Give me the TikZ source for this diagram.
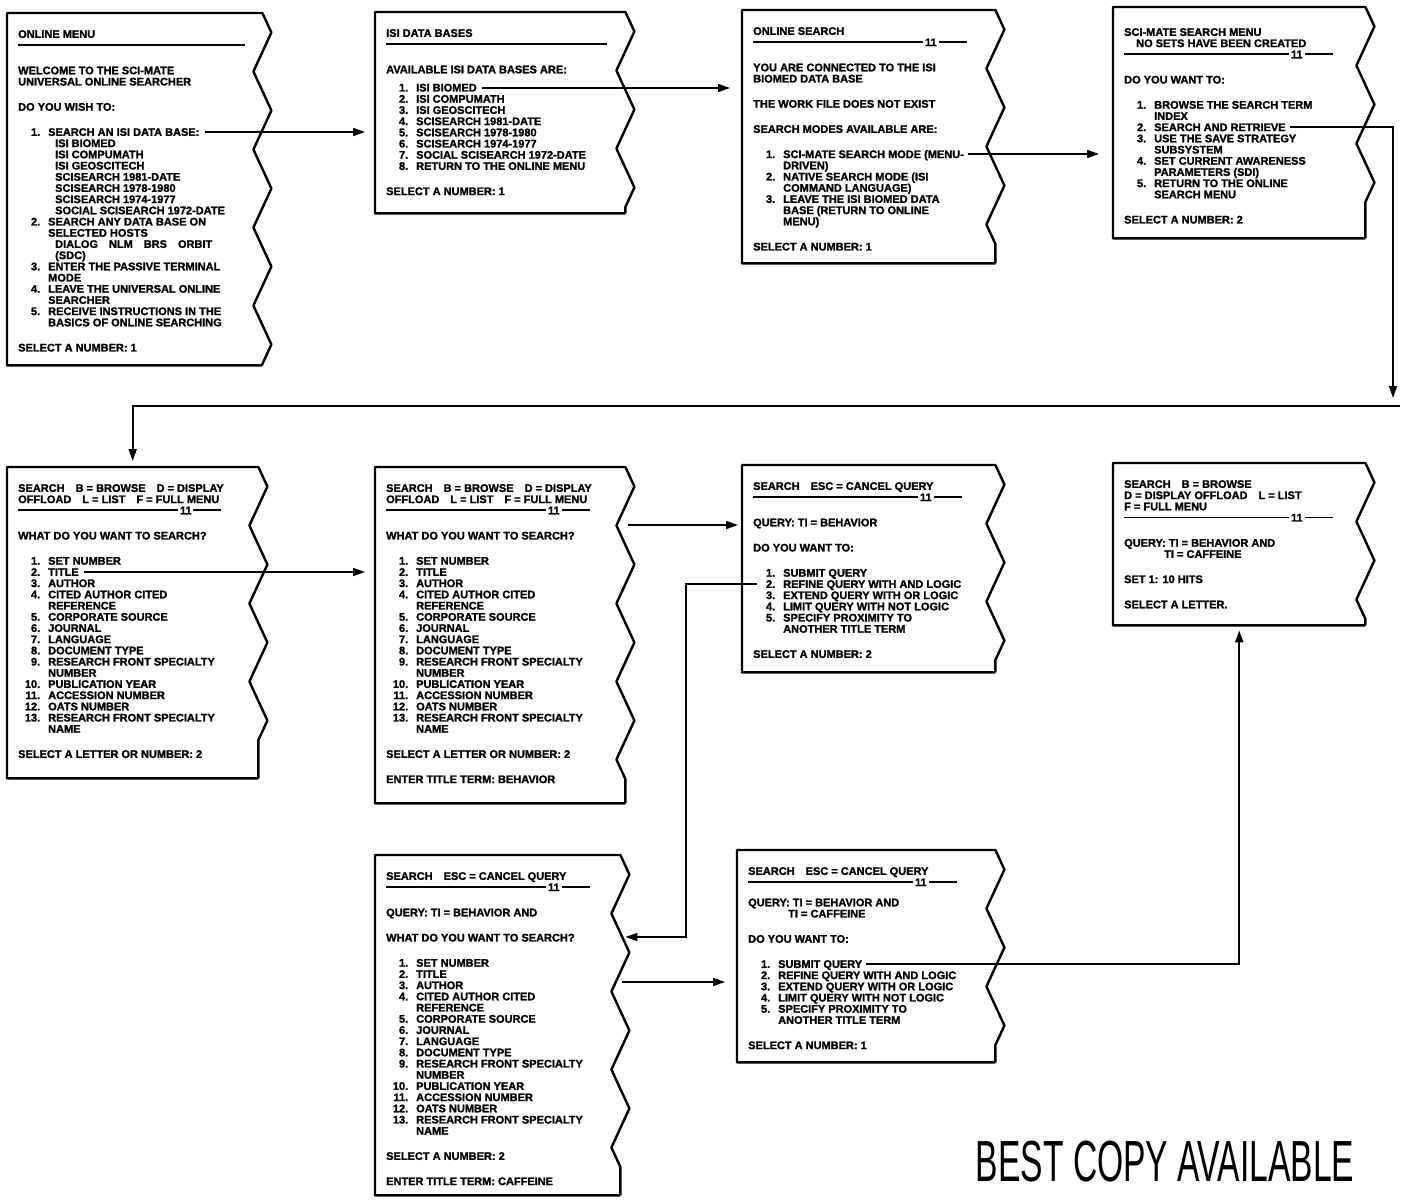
\documentclass[tikz,border=0pt]{standalone}
\usepackage{fontspec}
\usepackage{graphicx}
\newfontfamily\screenfont[BoldFeatures={FakeBold=1.6}]{Liberation Sans}
\usetikzlibrary{arrows.meta,decorations.pathmorphing}

\newcommand\itm[2]{\hspace*{6pt}\makebox[16pt][r]{#1}\hspace*{8pt}#2}
\newcommand\cont[1]{\hspace*{30pt}#1}
\newcommand\subl[1]{\hspace*{37pt}#1}
\newcommand\sepline[1]{\rule[3pt]{#1pt}{1.8pt}}
\newcommand\sepnum[1]{\rule[3pt]{#1pt}{1.8pt}\,11\,\rule[3pt]{28pt}{1.8pt}}

\begin{document}
\begin{tikzpicture}[x=1pt, y=-1pt,
    frame/.style={line width=2.4pt, line join=round,
      decoration={zigzag, segment length=78pt, amplitude=9pt}},
    link/.style={line width=1.6pt, -{Triangle[length=12pt,width=8pt]}}]

      \useasboundingbox (0,0) rectangle (1402,1199);

      \begin{scope}[every node/.style={anchor=north west, inner sep=0pt}]
        \node[minimum width=255pt, minimum height=352pt] (1)  at (7,13)    {};
        \node[minimum width=250pt, minimum height=201pt] (2)  at (375,12)  {};
        \node[minimum width=253pt, minimum height=253pt] (3)  at (742,10)  {};
        \node[minimum width=252pt, minimum height=231pt] (4)  at (1113,7)  {};
        \node[minimum width=251pt, minimum height=311pt] (5)  at (7,467)   {};
        \node[minimum width=250pt, minimum height=336pt] (6)  at (375,467) {};
        \node[minimum width=253pt, minimum height=207pt] (7)  at (742,465) {};
        \node[minimum width=245pt, minimum height=340pt] (8)  at (375,855) {};
        \node[minimum width=258pt, minimum height=212pt] (9)  at (737,850) {};
        \node[minimum width=252pt, minimum height=162pt] (10) at (1113,463) {};
      \end{scope}

      \foreach \n in {1,...,10}
        \draw[frame] (\n.south east) -- (\n.south west) -- (\n.north west)
          -- (\n.north east) decorate {-- (\n.south east)};

      \begin{scope}[every node/.style={anchor=north west, inner sep=0pt, align=left,
          font=\screenfont\bfseries\fontsize{11}{11.2}\selectfont}]
        \node (t1) at ([shift={(11,17)}]1.north west) {ONLINE MENU\\
          \sepline{227}\\[14pt]
          WELCOME TO THE SCI-MATE\\
          UNIVERSAL ONLINE SEARCHER\\[14pt]
          DO YOU WISH TO:\\[14pt]
          \itm{1.}{SEARCH AN ISI DATA BASE:}\\
          \subl{ISI BIOMED}\\
          \subl{ISI COMPUMATH}\\
          \subl{ISI GEOSCITECH}\\
          \subl{SCISEARCH 1981-DATE}\\
          \subl{SCISEARCH 1978-1980}\\
          \subl{SCISEARCH 1974-1977}\\
          \subl{SOCIAL SCISEARCH 1972-DATE}\\
          \itm{2.}{SEARCH ANY DATA BASE ON}\\
          \cont{SELECTED HOSTS}\\
          \subl{DIALOG\quad NLM\quad BRS\quad ORBIT}\\
          \subl{(SDC)}\\
          \itm{3.}{ENTER THE PASSIVE TERMINAL}\\
          \cont{MODE}\\
          \itm{4.}{LEAVE THE UNIVERSAL ONLINE}\\
          \cont{SEARCHER}\\
          \itm{5.}{RECEIVE INSTRUCTIONS IN THE}\\
          \cont{BASICS OF ONLINE SEARCHING}\\[14pt]
          SELECT A NUMBER: 1};

        \node (t2) at ([shift={(11,17)}]2.north west) {ISI DATA BASES\\
          \sepline{221}\\[14pt]
          AVAILABLE ISI DATA BASES ARE:\\[7pt]
          \itm{1.}{ISI BIOMED}\\
          \itm{2.}{ISI COMPUMATH}\\
          \itm{3.}{ISI GEOSCITECH}\\
          \itm{4.}{SCISEARCH 1981-DATE}\\
          \itm{5.}{SCISEARCH 1978-1980}\\
          \itm{6.}{SCISEARCH 1974-1977}\\
          \itm{7.}{SOCIAL SCISEARCH 1972-DATE}\\
          \itm{8.}{RETURN TO THE ONLINE MENU}\\[14pt]
          SELECT A NUMBER: 1};

        \node (t3) at ([shift={(11,17)}]3.north west) {ONLINE SEARCH\\
          \sepnum{170}\\[14pt]
          YOU ARE CONNECTED TO THE ISI\\
          BIOMED DATA BASE\\[14pt]
          THE WORK FILE DOES NOT EXIST\\[14pt]
          SEARCH MODES AVAILABLE ARE:\\[14pt]
          \itm{1.}{SCI-MATE SEARCH MODE (MENU-}\\
          \cont{DRIVEN)}\\
          \itm{2.}{NATIVE SEARCH MODE (ISI}\\
          \cont{COMMAND LANGUAGE)}\\
          \itm{3.}{LEAVE THE ISI BIOMED DATA}\\
          \cont{BASE (RETURN TO ONLINE}\\
          \cont{MENU)}\\[14pt]
          SELECT A NUMBER: 1};

        \node (t4) at ([shift={(11,21)}]4.north west) {SCI-MATE SEARCH MENU\\
          \hspace*{12pt}NO SETS HAVE BEEN CREATED\\
          \sepnum{165}\\[14pt]
          DO YOU WANT TO:\\[14pt]
          \itm{1.}{BROWSE THE SEARCH TERM}\\
          \cont{INDEX}\\
          \itm{2.}{SEARCH AND RETRIEVE}\\
          \itm{3.}{USE THE SAVE STRATEGY}\\
          \cont{SUBSYSTEM}\\
          \itm{4.}{SET CURRENT AWARENESS}\\
          \cont{PARAMETERS (SDI)}\\
          \itm{5.}{RETURN TO THE ONLINE}\\
          \cont{SEARCH MENU}\\[14pt]
          SELECT A NUMBER: 2};

        \node (t5) at ([shift={(11,17)}]5.north west) {SEARCH\quad B = BROWSE\quad D = DISPLAY\\
          OFFLOAD\quad L = LIST\quad F = FULL MENU\\
          \sepnum{160}\\[14pt]
          WHAT DO YOU WANT TO SEARCH?\\[14pt]
          \itm{1.}{SET NUMBER}\\
          \itm{2.}{TITLE}\\
          \itm{3.}{AUTHOR}\\
          \itm{4.}{CITED AUTHOR CITED}\\
          \cont{REFERENCE}\\
          \itm{5.}{CORPORATE SOURCE}\\
          \itm{6.}{JOURNAL}\\
          \itm{7.}{LANGUAGE}\\
          \itm{8.}{DOCUMENT TYPE}\\
          \itm{9.}{RESEARCH FRONT SPECIALTY}\\
          \cont{NUMBER}\\
          \itm{10.}{PUBLICATION YEAR}\\
          \itm{11.}{ACCESSION NUMBER}\\
          \itm{12.}{OATS NUMBER}\\
          \itm{13.}{RESEARCH FRONT SPECIALTY}\\
          \cont{NAME}\\[14pt]
          SELECT A LETTER OR NUMBER: 2};

        \node (t6) at ([shift={(11,17)}]6.north west) {SEARCH\quad B = BROWSE\quad D = DISPLAY\\
          OFFLOAD\quad L = LIST\quad F = FULL MENU\\
          \sepnum{160}\\[14pt]
          WHAT DO YOU WANT TO SEARCH?\\[14pt]
          \itm{1.}{SET NUMBER}\\
          \itm{2.}{TITLE}\\
          \itm{3.}{AUTHOR}\\
          \itm{4.}{CITED AUTHOR CITED}\\
          \cont{REFERENCE}\\
          \itm{5.}{CORPORATE SOURCE}\\
          \itm{6.}{JOURNAL}\\
          \itm{7.}{LANGUAGE}\\
          \itm{8.}{DOCUMENT TYPE}\\
          \itm{9.}{RESEARCH FRONT SPECIALTY}\\
          \cont{NUMBER}\\
          \itm{10.}{PUBLICATION YEAR}\\
          \itm{11.}{ACCESSION NUMBER}\\
          \itm{12.}{OATS NUMBER}\\
          \itm{13.}{RESEARCH FRONT SPECIALTY}\\
          \cont{NAME}\\[14pt]
          SELECT A LETTER OR NUMBER: 2\\[14pt]
          ENTER TITLE TERM: BEHAVIOR};

        \node (t7) at ([shift={(11,17)}]7.north west) {SEARCH\quad ESC = CANCEL QUERY\\
          \sepnum{165}\\[14pt]
          QUERY: TI = BEHAVIOR\\[14pt]
          DO YOU WANT TO:\\[14pt]
          \itm{1.}{SUBMIT QUERY}\\
          \itm{2.}{REFINE QUERY WITH AND LOGIC}\\
          \itm{3.}{EXTEND QUERY WITH OR LOGIC}\\
          \itm{4.}{LIMIT QUERY WITH NOT LOGIC}\\
          \itm{5.}{SPECIFY PROXIMITY TO}\\
          \cont{ANOTHER TITLE TERM}\\[14pt]
          SELECT A NUMBER: 2};

        \node (t8) at ([shift={(11,17)}]8.north west) {SEARCH\quad ESC = CANCEL QUERY\\
          \sepnum{160}\\[14pt]
          QUERY: TI = BEHAVIOR AND\\[14pt]
          WHAT DO YOU WANT TO SEARCH?\\[14pt]
          \itm{1.}{SET NUMBER}\\
          \itm{2.}{TITLE}\\
          \itm{3.}{AUTHOR}\\
          \itm{4.}{CITED AUTHOR CITED}\\
          \cont{REFERENCE}\\
          \itm{5.}{CORPORATE SOURCE}\\
          \itm{6.}{JOURNAL}\\
          \itm{7.}{LANGUAGE}\\
          \itm{8.}{DOCUMENT TYPE}\\
          \itm{9.}{RESEARCH FRONT SPECIALTY}\\
          \cont{NUMBER}\\
          \itm{10.}{PUBLICATION YEAR}\\
          \itm{11.}{ACCESSION NUMBER}\\
          \itm{12.}{OATS NUMBER}\\
          \itm{13.}{RESEARCH FRONT SPECIALTY}\\
          \cont{NAME}\\[14pt]
          SELECT A NUMBER: 2\\[14pt]
          ENTER TITLE TERM: CAFFEINE};

        \node (t9) at ([shift={(11,17)}]9.north west) {SEARCH\quad ESC = CANCEL QUERY\\
          \sepnum{165}\\[9pt]
          QUERY: TI = BEHAVIOR AND\\
          \hspace*{40pt}TI = CAFFEINE\\[14pt]
          DO YOU WANT TO:\\[14pt]
          \itm{1.}{SUBMIT QUERY}\\
          \itm{2.}{REFINE QUERY WITH AND LOGIC}\\
          \itm{3.}{EXTEND QUERY WITH OR LOGIC}\\
          \itm{4.}{LIMIT QUERY WITH NOT LOGIC}\\
          \itm{5.}{SPECIFY PROXIMITY TO}\\
          \cont{ANOTHER TITLE TERM}\\[14pt]
          SELECT A NUMBER: 1};

        \node (t10) at ([shift={(11,17)}]10.north west) {SEARCH\quad B = BROWSE\\
          D = DISPLAY OFFLOAD\quad L = LIST\\
          F = FULL MENU\\
          \sepnum{165}\\[14pt]
          QUERY: TI = BEHAVIOR AND\\
          \hspace*{40pt}TI = CAFFEINE\\[14pt]
          SET 1: 10 HITS\\[14pt]
          SELECT A LETTER.};
      \end{scope}

      \node[font=\screenfont\fontsize{58}{58}\selectfont] (stamp) at (1165,1162)
        {\scalebox{0.58}[1]{BEST COPY AVAILABLE}};

      \coordinate (a1) at (205,132);
      \coordinate (a2) at (482,88);
      \coordinate (a3) at (968,154);
      \coordinate (a4) at (1290,127);
      \coordinate (r1) at (1393,398);
      \coordinate (r2) at (1400,406);
      \coordinate (a5) at (84,572);
      \coordinate (a6) at (628,525);
      \coordinate (a7) at (757,584);
      \coordinate (k7) at (686,937);
      \coordinate (a8) at (622,982);
      \coordinate (a9) at (866,964);

      \begin{scope}[every path/.style={link}]
        \draw[shorten >=10pt] (a1) -- (a1 -| 2.west);
        \draw[shorten >=12pt] (a2) -- (a2 -| 3.west);
        \draw[shorten >=14pt] (a3) -- (a3 -| 4.west);
        \draw (a4) -| (r1);
        \draw[shorten >=6pt] (r2) -| (5.north);
        \draw[shorten >=10pt] (a5) -- (a5 -| 6.west);
        \draw[shorten >=4pt] (a6) -- (a6 -| 7.west);
        \draw[shorten >=5pt] (a7) -| (k7) -- (k7 -| 8.east);
        \draw[shorten >=12pt] (a8) -- (a8 -| 9.west);
        \draw[shorten >=5pt] (a9) -| (10.south);
      \end{scope}

    \end{tikzpicture}
\end{document}
